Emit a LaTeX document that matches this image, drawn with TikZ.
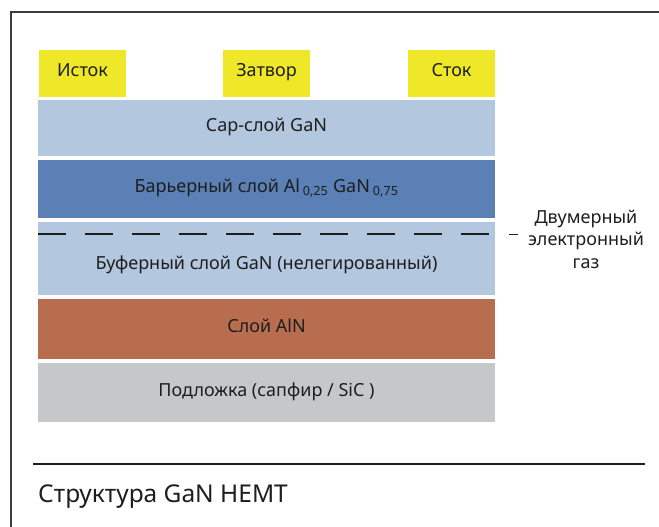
\documentclass[tikz,border=0pt]{standalone}
\usepackage{fontspec}
\setmainfont{Noto Sans}
\usetikzlibrary{positioning}

\definecolor{contactyellow}{HTML}{EEE829}
\definecolor{capblue}{HTML}{B3C7DF}
\definecolor{barrierblue}{HTML}{5A80B6}
\definecolor{alnbrown}{HTML}{B86D4F}
\definecolor{substrategrey}{HTML}{C6C7C9}
\definecolor{inkgrey}{HTML}{1E1E1E}
\definecolor{framegrey}{HTML}{3C3C3C}

\tikzset{
  labelfont/.style={font=\fontsize{18}{22.5}\selectfont, text=inkgrey},
  layer/.style={rectangle, inner sep=0pt, minimum width=457pt, labelfont,
    text height=0.7em, text depth=0pt},
  contact/.style={rectangle, fill=contactyellow, inner sep=0pt,
    minimum width=87pt, minimum height=47pt, labelfont,
    text height=0.7em, text depth=0pt},
  gasline/.style={line width=1.4pt, inkgrey, dash pattern=on 28pt off 19pt},
}

\begin{document}
\begin{tikzpicture}[x=1pt,y=-1pt]

\useasboundingbox (0,0) rectangle (659,527);

\draw[framegrey, line width=1.5pt] (11,527) -- (11,12) -- (659,12);

\node at (82.5,73.5) [contact] (source) {Исток};
\node at (266.5,73.5) [contact] (gate) {Затвор};
\node at (451.5,73.5) [contact] (drain) {Сток};

\node at (266.5,128) [layer, fill=capblue, minimum height=56pt] (cap) {Cap-слой GaN};
\node at (266.5,189) [layer, fill=barrierblue, minimum height=58pt] (barrier)
  {Барьерный слой Al\,\textsubscript{0,25} GaN\,\textsubscript{0,75}};
\node at (266.5,258.5) [layer, fill=capblue, minimum height=73pt] (buffer) {};
\node at (266.5,265.5) [labelfont, inner sep=0pt, text height=0.7em, text depth=0pt] (bufferlabel)
  {Буферный слой GaN (нелегированный)};
\node at (266.5,329) [layer, fill=alnbrown, minimum height=60pt] (aln) {Слой AlN};
\node at (266.5,392.5) [layer, fill=substrategrey, minimum height=59pt] (substrate)
  {Подложка (сапфир / SiC )};

\draw[gasline] ([yshift=-12pt]buffer.north west) -- ++(451,0);
\draw[line width=1.2pt, inkgrey] ([xshift=14pt,yshift=-13pt]buffer.north east) -- ++(9,0);

\node at (586,239) [labelfont, align=center, inner sep=0pt] (gas) {Двумерный\\электронный\\газ};

\draw[inkgrey, line width=1.2pt] (33,464) -- (645,464);

\node at (38,502) [anchor=base west, inner sep=0pt, font=\fontsize{24.5}{28}\selectfont, text=inkgrey] (title)
  {Структура GaN HEMT};

\end{tikzpicture}
\end{document}
